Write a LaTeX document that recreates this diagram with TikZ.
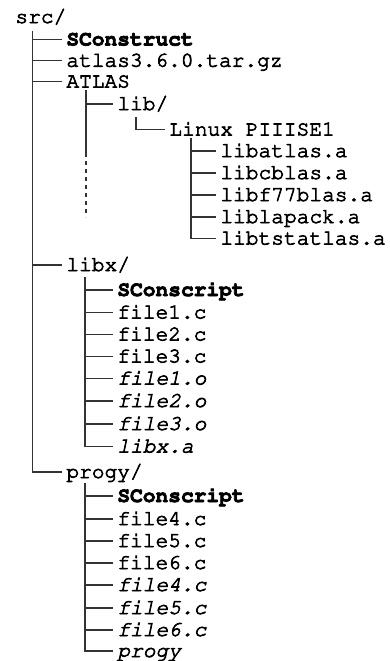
\documentclass[tikz,border=0pt]{standalone}
\usepackage[T1]{fontenc}
\usepackage{courier}
% Courier is thin, stroke the glyphs a little
\newcommand\heavyink{\special{pdf:literal direct 2 Tr 0.35 w}}

\begin{document}
\begin{tikzpicture}[x=0.5pt,y=-0.5pt,
  entry/.style={anchor=west,inner xsep=2pt,inner ysep=0pt,
    text height=6pt,text depth=0pt,
    font=\fontsize{10.6pt}{12pt}\selectfont\ttfamily\heavyink},
  made/.style={entry,font=\fontsize{10.6pt}{12pt}\selectfont\ttfamily\itshape\heavyink},
  build/.style={entry,font=\fontsize{10.6pt}{12pt}\selectfont\ttfamily\bfseries\heavyink},
  tree/.style={line width=0.6pt,black!80}]
\useasboundingbox (0,0) rectangle (390,661);

\node[entry] (src) at (11,17) {src/};
\node[build] (scons) at (62,39.5) {SConstruct};
\node[entry] (tarball) at (62,60.7) {atlas3.6.0.tar.gz};
\node[entry] (atlas) at (62,81.5) {ATLAS};
\node[entry] (libdir) at (113,104) {lib/};
\node[entry] (linux) at (165,129.5) {Linux PIIISE1};
\node[entry] (libatlas) at (216,151) {libatlas.a};
\node[entry] (libcblas) at (216,173) {libcblas.a};
\node[entry] (libfblas) at (216,195) {libf77blas.a};
\node[entry] (liblapack) at (216,217) {liblapack.a};
\node[entry] (libtstat) at (216,238.5) {libtstatlas.a};
\node[entry] (libx) at (62,265) {libx/};
\node[build] (xscons) at (113,290) {SConscript};
\node[entry] (xfa) at (113,312.5) {file1.c};
\node[entry] (xfb) at (113,334.5) {file2.c};
\node[entry] (xfc) at (113,356.5) {file3.c};
\node[made] (xoa) at (113,378.5) {file1.o};
\node[made] (xob) at (113,401) {file2.o};
\node[made] (xoc) at (113,424) {file3.o};
\node[made] (xlib) at (113,446.5) {libx.a};
\node[entry] (progy) at (62,472) {progy/};
\node[build] (pscons) at (113,496) {SConscript};
\node[entry] (pfa) at (113,519) {file4.c};
\node[entry] (pfb) at (113,541) {file5.c};
\node[entry] (pfc) at (113,563) {file6.c};
\node[made] (poa) at (113,585) {file4.c};
\node[made] (pob) at (113,608) {file5.c};
\node[made] (poc) at (113,630) {file6.c};
\node[made] (pbin) at (113,651) {progy};

% src/
\coordinate (trunk) at (32.3,31);
\draw[tree] (trunk) |- (progy.west);
\foreach \n in {scons,tarball,atlas,libx}
  \draw[tree] (trunk |- \n.west) -- (\n.west);

% ATLAS, rest of the tree left out
\coordinate (atlasbar) at (86,90);
\coordinate (atlasgap) at (86,153);
\coordinate (atlasend) at (86,217);
\draw[tree] (atlasbar) -- (atlasgap);
\draw[tree,dash pattern=on 2pt off 2pt] (atlasgap) -- (atlasend);
\draw[tree] (atlasbar |- libdir.west) -- (libdir.west);

\coordinate (libbar) at (136,117);
\draw[tree] (libbar) |- (linux.west);

\coordinate (linuxbar) at (191,138);
\draw[tree] (linuxbar) |- (libtstat.west);
\foreach \n in {libatlas,libcblas,libfblas,liblapack}
  \draw[tree] (linuxbar |- \n.west) -- (\n.west);

% libx/
\coordinate (libxbar) at (85,277);
\draw[tree] (libxbar) |- (xlib.west);
\foreach \n in {xscons,xfa,xfb,xfc,xoa,xob,xoc}
  \draw[tree] (libxbar |- \n.west) -- (\n.west);

% progy/
\coordinate (progybar) at (85,483);
\draw[tree] (progybar) |- (pbin.west);
\foreach \n in {pscons,pfa,pfb,pfc,poa,pob,poc}
  \draw[tree] (progybar |- \n.west) -- (\n.west);
\end{tikzpicture}
\end{document}
